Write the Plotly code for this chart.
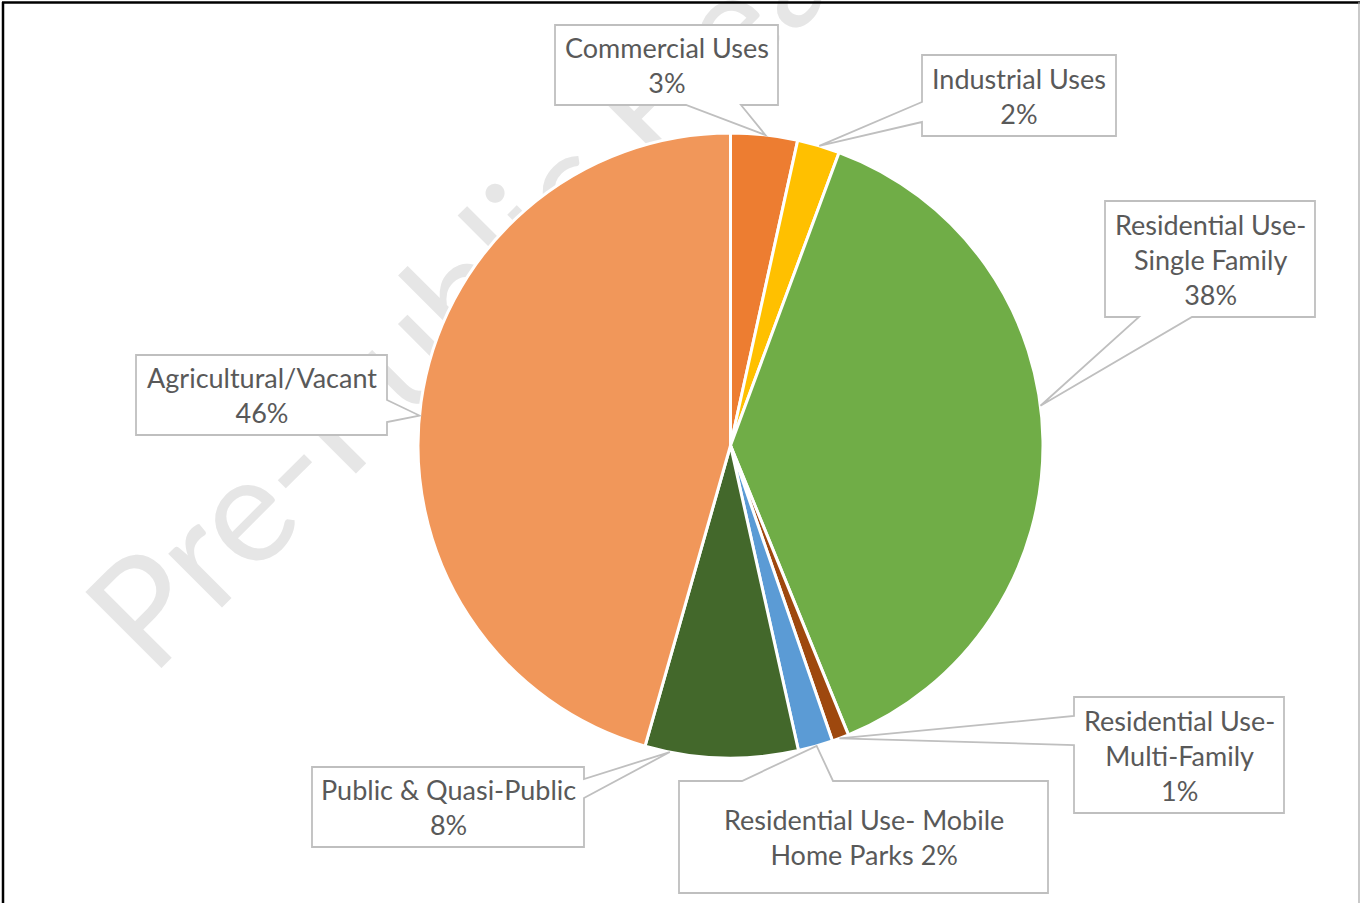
import math
import plotly.graph_objects as go

# ---- data -------------------------------------------------------------
categories = [
    "Commercial Uses",
    "Industrial Uses",
    "Residential Use- Single Family",
    "Residential Use- Multi-Family",
    "Residential Use- Mobile Home Parks",
    "Public & Quasi-Public",
    "Agricultural/Vacant",
]
shares = [3.45, 2.2, 38.2, 0.87, 1.8, 7.9, 45.6]
colors = ["#ED7D31", "#FFC000", "#70AD47", "#9E480E", "#5B9BD5", "#43682B", "#F1975A"]

# ---- canvas / pie geometry (pixels) ----------------------------------
W, H = 1360, 903
CX, CY, R = 730.5, 445.5, 312.5
FONT = "Lato, Carlito, Calibri, sans-serif"
TEXT_COLOR = "#595959"
BOX_LINE = "#BFBFBF"


def px(x):
    return x / W


def py(y):
    return 1 - y / H


total = sum(shares)
pct_text = [f"{round(v / total * 100)}%" for v in shares]

# callout boxes: box (x0, y0, x1, y1), side carrying the pointer,
# pointer base along that side, pointer angle on the rim (deg, clockwise from 12)
callouts = [
    dict(text="Commercial Uses<br>{pct}", box=(555, 25, 778, 105), side="bottom", base=(686, 741), tip=6.4),
    dict(text="Industrial Uses<br>{pct}", box=(922, 55, 1116, 136), side="left", base=(102, 122), tip=16.5),
    dict(text="Residential Use-<br>Single Family<br>{pct}", box=(1105, 201, 1315, 317), side="bottom", base=(1139, 1192), tip=82.7),
    dict(text="Residential Use-<br>Multi-Family<br>{pct}", box=(1074, 697, 1284, 813), side="left", base=(716, 745), tip=159.6),
    dict(text="Residential Use- Mobile<br>Home Parks {pct}", box=(679, 781, 1048, 893), side="top", base=(742, 833), tip=164.0),
    dict(text="Public &amp; Quasi-Public<br>{pct}", box=(312, 767, 584, 847), side="right", base=(779, 798), tip=191.2),
    dict(text="Agricultural/Vacant<br>{pct}", box=(136, 355, 387, 435), side="right", base=(400, 422), tip=275.5),
]

fig = go.Figure(
    go.Pie(
        labels=categories,
        values=shares,
        sort=False,
        direction="clockwise",
        rotation=0,
        marker=dict(colors=colors, line=dict(color="white", width=3)),
        textinfo="none",
        hovertemplate="%{label}: %{percent}<extra></extra>",
        domain=dict(x=[px(CX - R), px(CX + R)], y=[py(CY + R), py(CY - R)]),
        showlegend=False,
    )
)

shapes = []
annotations = []

# faint watermark text running diagonally behind the pie
wm_start = (173, 699)
wm_len = 1200
shapes.append(dict(
    type="line", xref="paper", yref="paper", layer="below",
    x0=px(wm_start[0]), y0=py(wm_start[1]),
    x1=px(wm_start[0] + wm_len * math.cos(math.radians(45))),
    y1=py(wm_start[1] - wm_len * math.sin(math.radians(45))),
    line=dict(color="rgba(0,0,0,0)", width=1),
    label=dict(text="Pre-Public Hearing", textposition="start", textangle=-45,
               xanchor="left", yanchor="bottom", padding=0,
               font=dict(family=FONT, size=150, color="#E6E6E6")),
))

for c, pct in zip(callouts, pct_text):
    x0, y0, x1, y1 = c["box"]
    b0, b1 = c["base"]
    a = math.radians(c["tip"])
    tx, ty = CX + R * math.sin(a), CY - R * math.cos(a)
    pts = [(x0, y0)]
    if c["side"] == "top":
        pts += [(b0, y0), (tx, ty), (b1, y0)]
    pts.append((x1, y0))
    if c["side"] == "right":
        pts += [(x1, b0), (tx, ty), (x1, b1)]
    pts.append((x1, y1))
    if c["side"] == "bottom":
        pts += [(b1, y1), (tx, ty), (b0, y1)]
    pts.append((x0, y1))
    if c["side"] == "left":
        pts += [(x0, b1), (tx, ty), (x0, b0)]
    path = "M " + " L ".join(f"{px(x):.5f},{py(y):.5f}" for x, y in pts) + " Z"
    shapes.append(dict(type="path", xref="paper", yref="paper", path=path,
                       fillcolor="white", line=dict(color=BOX_LINE, width=1.8)))
    annotations.append(dict(
        xref="paper", yref="paper",
        x=px((x0 + x1) / 2), y=py((y0 + y1) / 2),
        xanchor="center", yanchor="middle", showarrow=False,
        text=c["text"].format(pct=pct), align="center",
        font=dict(family=FONT, size=27, color=TEXT_COLOR),
    ))

# chart frame
shapes += [
    dict(type="line", xref="paper", yref="paper", x0=px(2), x1=px(1360), y0=py(2.5), y1=py(2.5),
         line=dict(color="black", width=2.5)),
    dict(type="line", xref="paper", yref="paper", x0=px(3), x1=px(3), y0=py(2), y1=py(903),
         line=dict(color="black", width=2.5)),
    dict(type="line", xref="paper", yref="paper", x0=px(1359), x1=px(1359), y0=py(2), y1=py(903),
         line=dict(color="#A6A6A6", width=1.2)),
]

fig.update_layout(
    width=W, height=H,
    margin=dict(l=0, r=0, t=0, b=0),
    paper_bgcolor="white", plot_bgcolor="white",
    shapes=shapes, annotations=annotations,
)

fig.write_html("out.html")
